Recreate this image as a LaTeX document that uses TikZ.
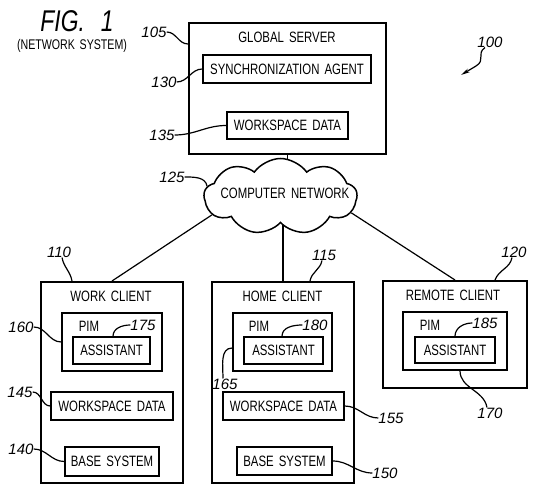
\documentclass[tikz,border=0pt]{standalone}
\usepackage{fontspec}
\setmainfont{Liberation Sans}
\newfontfamily\patfont{Liberation Sans}[FakeStretch=0.76,WordSpace=1.6]
\usetikzlibrary{shapes.symbols,arrows.meta,backgrounds}

\begin{document}
\begin{tikzpicture}[x=1pt,y=-1pt,
	box/.style={draw,line width=1.5pt,inner sep=0pt},
	big/.style={draw,line width=2pt,inner sep=0pt},
	txt/.style={font=\patfont\fontsize{15}{15}\selectfont,inner sep=0pt},
	num/.style={font=\fontsize{15}{15}\selectfont\itshape,inner sep=0pt},
	lead/.style={line width=1.2pt}]
	\useasboundingbox (0,0) rectangle (541,497);
	\node[inner sep=0pt,font=\patfont\itshape\fontsize{30}{30}\selectfont] (fig) at (77,21) {FIG.\hspace{16pt}1};
	\node[txt,font=\patfont\fontsize{14}{14}\selectfont] (figsub) at (72,46) {(NETWORK SYSTEM)};

	\node[big,minimum width=197pt,minimum height=131pt] (server) at (287.5,88.5) {};
	\node[txt] (servert) at (287,37) {GLOBAL SERVER};
	\node[box,txt,minimum width=168pt,minimum height=28pt] (sync) at (287,69) {SYNCHRONIZATION AGENT};
	\node[box,txt,minimum width=121pt,minimum height=27pt] (wsd0) at (287.5,125.5) {WORKSPACE DATA};
	\node[cloud,draw,line width=1.5pt,fill=white,cloud puffs=9,cloud puff arc=110,cloud ignores aspect,minimum width=153pt,minimum height=76pt,inner sep=0pt] (net) at (280.5,196.5) {};
	\node[txt] (nett) at (285,193) {COMPUTER NETWORK};

	\node[big,minimum width=142pt,minimum height=201pt] (work) at (112,382.5) {};
	\node[txt] (workt) at (111,296) {WORK CLIENT};
	\node[box,minimum width=100pt,minimum height=58pt] (pim1) at (112,342) {};
	\node[txt] (pim1t) at (89,326) {PIM};
	\node[box,txt,minimum width=77pt,minimum height=27pt] (asst1) at (111.5,350.5) {ASSISTANT};
	\node[box,txt,minimum width=122pt,minimum height=28pt] (wsd1) at (112,406) {WORKSPACE DATA};
	\node[box,txt,minimum width=94pt,minimum height=29pt] (base1) at (112,461.5) {BASE SYSTEM};

	\node[big,minimum width=142pt,minimum height=201pt] (home) at (283,382.5) {};
	\node[txt] (homet) at (282.5,296) {HOME CLIENT};
	\node[box,minimum width=99pt,minimum height=58pt] (pim2) at (282.5,342) {};
	\node[txt] (pim2t) at (259,326) {PIM};
	\node[box,txt,minimum width=79pt,minimum height=27pt] (asst2) at (283.5,350.5) {ASSISTANT};
	\node[box,txt,minimum width=121pt,minimum height=28pt] (wsd2) at (283.5,406) {WORKSPACE DATA};
	\node[box,txt,minimum width=95pt,minimum height=28pt] (base2) at (284.5,461) {BASE SYSTEM};

	\node[big,minimum width=144pt,minimum height=107pt] (remote) at (455,334.5) {};
	\node[txt] (remotet) at (453,295) {REMOTE CLIENT};
	\node[box,minimum width=104pt,minimum height=58pt] (pim3) at (455,341) {};
	\node[txt] (pim3t) at (430,325) {PIM};
	\node[box,txt,minimum width=80pt,minimum height=26pt] (asst3) at (455,350) {ASSISTANT};

	\begin{scope}[on background layer]
		\draw[lead] (server.south) -- (server.south |- net.center);
		\draw[lead] (home.north) -- (home.north |- net.center);
	\end{scope}
	\draw[lead] (net.195) -- (work.north);
	\draw[lead] (net.347) -- (remote.north);

	\node[num] (l105) at (154,32) {105};
	\draw[lead] (l105.east) to[out=0,in=180] ([yshift=-22pt]server.north west);
	\node[num] (l130) at (164,82) {130};
	\draw[lead] (l130.east) to[out=0,in=180] (sync.west);
	\node[num] (l135) at (162,135) {135};
	\draw[lead] (l135.east) to[out=0,in=180] (wsd0.west);
	\node[num] (l125) at (172,177) {125};
	\draw[lead] (l125.east) to[out=0,in=100] (net.172);
	\node[num] (l100) at (490,42) {100};
	\coordinate (tip100) at (461,75);
	\draw[lead,-{Stealth[length=9pt,width=4pt]}] ([xshift=-5pt]l100.south) .. controls (476,54) and (486,60) .. (476,66) -- (tip100);

	\node[num] (l110) at (59,252) {110};
	\draw[lead] ([xshift=3pt]l110.south) to[out=-80,in=100] ([xshift=-40pt]work.north);
	\node[num] (l160) at (21,327) {160};
	\draw[lead] (l160.east) to[out=0,in=180] (pim1.west);
	\node[num] (l175) at (143,325) {175};
	\draw[lead] (l175.west) to[out=180,in=90] ([xshift=1.5pt]asst1.north);
	\node[num] (l145) at (20,392) {145};
	\draw[lead] (l145.east) to[out=0,in=180] (wsd1.west);
	\node[num] (l140) at (21,449) {140};
	\draw[lead] (l140.east) to[out=0,in=180] (base1.west);

	\node[num] (l115) at (324,255) {115};
	\draw[lead] ([xshift=-2pt]l115.south) to[out=-100,in=80] ([xshift=27pt]home.north);
	\node[num] (l180) at (315,325) {180};
	\draw[lead] (l180.west) to[out=180,in=90] ([xshift=-1.5pt]asst2.north);
	\node[num] (l165) at (225,384) {165};
	\draw[lead] ([yshift=-6pt]pim2.west) to[out=180,in=90] ([xshift=-2pt]l165.north);
	\node[num] (l155) at (391,418) {155};
	\draw[lead] (wsd2.east) to[out=0,in=180] (l155.west);
	\node[num] (l150) at (385,473) {150};
	\draw[lead] (base2.east) to[out=0,in=180] (l150.west);

	\node[num] (l120) at (514,252) {120};
	\draw[lead] ([xshift=-2pt]l120.south) to[out=-100,in=70] ([xshift=40pt]remote.north);
	\node[num] (l185) at (485,323) {185};
	\draw[lead] (l185.west) to[out=180,in=90] (asst3.north);
	\node[num] (l170) at (490,413) {170};
	\draw[lead] ([xshift=5pt]pim3.south) to[out=-90,in=100] ([xshift=-3pt]l170.north);
\end{tikzpicture}
\end{document}
